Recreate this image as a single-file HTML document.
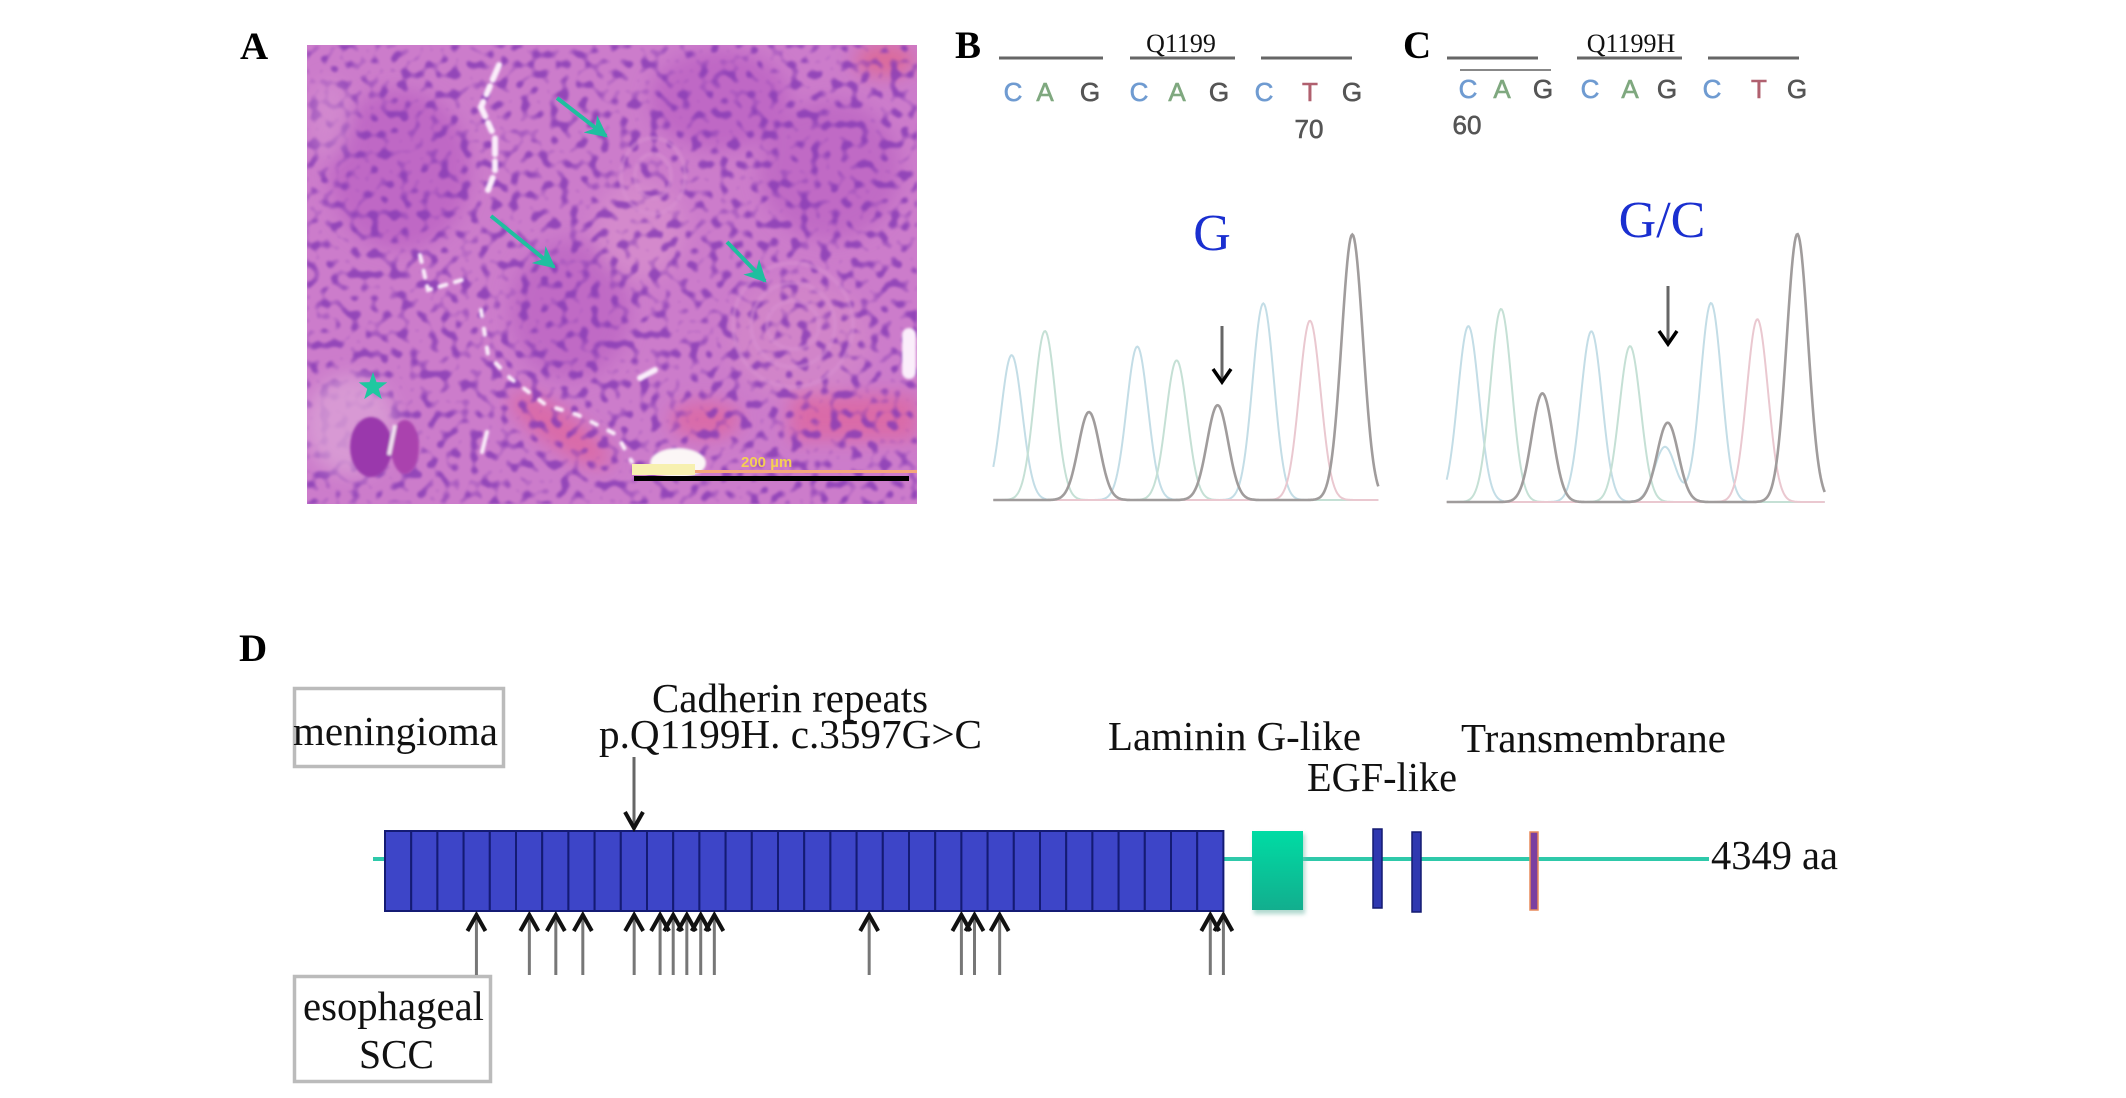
<!DOCTYPE html>
<html lang="en">
<head>
<meta charset="utf-8">
<title>CDH-family variant figure</title>
<style>
html,body{margin:0;padding:0;background:#fff;}
svg{display:block;}
text{font-family:"Liberation Serif",serif;fill:#111;}
.sans{font-family:"Liberation Sans",sans-serif;}
.panel{font-weight:bold;font-size:39px;fill:#000;}
.lbl{font-size:41px;}
.q{font-size:26px;}
.base{font-family:"Liberation Sans",sans-serif;font-size:26px;text-anchor:middle;stroke-width:.6;}
.c{fill:#6f9bd1;stroke:#6f9bd1}.a{fill:#7fa87f;stroke:#7fa87f}.g{fill:#555;stroke:#555}.t{fill:#b0606f;stroke:#b0606f}
.blue{font-size:52px;fill:#1a2fd0;text-anchor:middle;}
</style>
</head>
<body>
<svg id="figure" xmlns="http://www.w3.org/2000/svg" width="2126" height="1098" viewBox="0 0 2126 1098">
<defs>
  <clipPath id="hclip"><rect x="307" y="45" width="610" height="459"/></clipPath>
  <filter id="nuclei" x="0" y="0" width="100%" height="100%" color-interpolation-filters="sRGB">
    <feTurbulence type="fractalNoise" baseFrequency="0.1" numOctaves="1" seed="11"/>
    <feColorMatrix type="matrix" values="0 0 0 0 0.53  0 0 0 0 0.23  0 0 0 0 0.71  6 0 0 0 -3.1"/>
    <feGaussianBlur stdDeviation="1.1"/>
  </filter>
  <filter id="soft" x="-30%" y="-30%" width="160%" height="160%"><feGaussianBlur stdDeviation="9"/></filter>
  <filter id="soft2" x="-30%" y="-30%" width="160%" height="160%"><feGaussianBlur stdDeviation="1.2"/></filter>
  <filter id="shadow" x="-20%" y="-20%" width="140%" height="140%"><feGaussianBlur stdDeviation="2"/></filter>
  <marker id="tealHead" viewBox="0 0 10 10" refX="9" refY="5" markerWidth="5.5" markerHeight="5.5" orient="auto">
    <path d="M0,0 L10,5 L0,10 L3,5 Z" fill="#1fbf9f"/>
  </marker>
  <linearGradient id="lamGrad" x1="0" y1="0" x2="0" y2="1">
    <stop offset="0" stop-color="#00dca4"/><stop offset="1" stop-color="#12ae8e"/>
  </linearGradient>
</defs>
<rect width="2126" height="1098" fill="#fff"/>

<!-- Panel A -->
<text class="panel" x="240" y="59">A</text>
<g clip-path="url(#hclip)">
  <rect x="307" y="45" width="610" height="459" fill="#cc7ccb"/>
  <g filter="url(#soft)">
    <ellipse cx="400" cy="170" rx="70" ry="80" fill="#bf68c5"/>
    <ellipse cx="720" cy="100" rx="70" ry="50" fill="#bf68c5"/>
    <ellipse cx="830" cy="170" rx="70" ry="70" fill="#c06ac5"/>
    <ellipse cx="570" cy="310" rx="60" ry="70" fill="#c06ac5"/>
    <ellipse cx="640" cy="230" rx="45" ry="50" fill="#d489cc"/>
    <ellipse cx="800" cy="340" rx="70" ry="60" fill="#d184c9"/>
    <rect x="790" y="395" width="127" height="45" fill="#da6aa8"/>
    <ellipse cx="885" cy="60" rx="30" ry="16" fill="#dc6a9a"/>
    <ellipse cx="560" cy="430" rx="60" ry="18" fill="#da6aa8" transform="rotate(35 560 430)"/>
    <ellipse cx="705" cy="420" rx="35" ry="18" fill="#da6aa8"/>
  </g>
  <rect x="307" y="45" width="610" height="459" filter="url(#nuclei)" opacity=".82"/>
  <g filter="url(#soft)">
    <ellipse cx="350" cy="425" rx="45" ry="50" fill="#dba0d6" opacity=".8"/>
    <ellipse cx="330" cy="120" rx="22" ry="40" fill="#d893d2" opacity=".5"/>
  </g>
  <g fill="none" stroke="#d890d2" stroke-width="4" opacity=".55" filter="url(#soft2)">
    <ellipse cx="653" cy="176" rx="18" ry="22"/><ellipse cx="653" cy="176" rx="32" ry="38"/>
    <ellipse cx="793" cy="325" rx="26" ry="24"/><ellipse cx="793" cy="325" rx="42" ry="42"/><ellipse cx="793" cy="325" rx="60" ry="62"/>
  </g>
  <g fill="none" stroke="#fbeefb" stroke-linecap="round" filter="url(#soft2)">
    <polyline points="499,65 481,107 495,138 495,172 488,190" stroke-width="6" stroke-dasharray="16 7 9 8"/>
    <polyline points="420,255 428,290 462,280" stroke-width="4" stroke-dasharray="7 9"/>
    <polyline points="481,310 488,355 510,378 546,405 578,415 617,435 632,462" stroke-width="4" stroke-dasharray="6 13"/>
    <polyline points="640,378 655,370" stroke-width="6"/>
    <polyline points="909,335 909,372" stroke-width="14"/>
    <polyline points="487,432 482,452" stroke-width="4"/>
  </g>
  <ellipse cx="678" cy="463" rx="28" ry="15" fill="#fbf6f6" filter="url(#soft2)"/>
  <g filter="url(#soft2)">
    <ellipse cx="371" cy="447" rx="21" ry="30" fill="#9a38ac"/>
    <ellipse cx="405" cy="447" rx="14" ry="27" fill="#aa42ae"/>
    <line x1="395" y1="425" x2="389" y2="455" stroke="#f3e3f2" stroke-width="4"/>
  </g>
  <rect x="632" y="470" width="285" height="3" fill="#f4a77c"/>
  <rect x="632" y="464" width="63" height="11" fill="#f7f0b0"/>
  <rect x="634" y="476" width="275" height="5" fill="#000"/>
  <text class="sans" x="741" y="467" font-size="15" font-weight="bold" style="fill:#f4cf55">200 µm</text>
</g>
<g stroke="#1fbf9f" stroke-width="4">
  <line x1="557" y1="98" x2="606" y2="136" marker-end="url(#tealHead)"/>
  <line x1="491" y1="216" x2="554" y2="267" marker-end="url(#tealHead)"/>
  <line x1="727" y1="242" x2="765" y2="281" marker-end="url(#tealHead)"/>
</g>
<polygon points="373,372 376.5,382.1 387.3,382.4 378.7,388.9 381.8,399.1 373,393 364.2,399.1 367.3,388.9 358.7,382.4 369.5,382.1" fill="#1fc8a0"/>

<!-- Panel B -->
<text class="panel" x="955" y="58">B</text>
<g stroke="#666" stroke-width="3">
  <line x1="999" y1="58" x2="1103" y2="58"/><line x1="1130" y1="58" x2="1235" y2="58"/><line x1="1261" y1="58" x2="1352" y2="58"/>
</g>
<text class="q" x="1181" y="52" text-anchor="middle">Q1199</text>
<g>
  <text class="base c" x="1013" y="101">C</text><text class="base a" x="1045" y="101">A</text><text class="base g" x="1090" y="101">G</text>
  <text class="base c" x="1139" y="101">C</text><text class="base a" x="1177" y="101">A</text><text class="base g" x="1219" y="101">G</text>
  <text class="base c" x="1264" y="101">C</text><text class="base t" x="1310" y="101">T</text><text class="base g" x="1352" y="101">G</text>
</g>
<text class="base g" x="1309" y="138">70</text>
<text class="blue" x="1212" y="250">G</text>
<g id="traceB"></g>
<g>
  <line x1="1222" y1="326" x2="1222" y2="380" stroke="#666" stroke-width="3"/>
  <polyline points="1213,369 1222,382 1231,369" fill="none" stroke="#000" stroke-width="3.5"/>
</g>

<!-- Panel C -->
<text class="panel" x="1403" y="58">C</text>
<g stroke="#666" stroke-width="3">
  <line x1="1447" y1="58" x2="1538" y2="58"/><line x1="1577" y1="58" x2="1682" y2="58"/><line x1="1708" y1="58" x2="1799" y2="58"/>
  <line x1="1460" y1="70" x2="1551" y2="70" stroke="#888" stroke-width="2"/>
</g>
<text class="q" x="1631" y="52" text-anchor="middle">Q1199H</text>
<g>
  <text class="base c" x="1468" y="98">C</text><text class="base a" x="1502" y="98">A</text><text class="base g" x="1543" y="98">G</text>
  <text class="base c" x="1590" y="98">C</text><text class="base a" x="1630" y="98">A</text><text class="base g" x="1667" y="98">G</text>
  <text class="base c" x="1712" y="98">C</text><text class="base t" x="1759" y="98">T</text><text class="base g" x="1797" y="98">G</text>
</g>
<text class="base g" x="1467" y="134">60</text>
<text class="blue" x="1662" y="237">G/C</text>
<g id="traceC"></g>
<g>
  <line x1="1668" y1="286" x2="1668" y2="342" stroke="#666" stroke-width="3"/>
  <polyline points="1659,331 1668,344 1677,331" fill="none" stroke="#000" stroke-width="3.5"/>
</g>

<!-- Panel D -->
<text class="panel" x="239" y="661">D</text>
<rect x="294.5" y="688.5" width="209" height="78" fill="none" stroke="#bbb" stroke-width="3.5"/>
<text class="lbl" x="293" y="745" textLength="205" lengthAdjust="spacingAndGlyphs">meningioma</text>
<rect x="294.5" y="976.5" width="196" height="105" fill="none" stroke="#bbb" stroke-width="3.5"/>
<text class="lbl" x="303" y="1020" textLength="181" lengthAdjust="spacingAndGlyphs">esophageal</text>
<text class="lbl" x="359" y="1068" textLength="75" lengthAdjust="spacingAndGlyphs">SCC</text>

<text class="lbl" x="652" y="712" textLength="276" lengthAdjust="spacingAndGlyphs">Cadherin repeats</text>
<text class="lbl" x="599" y="748" textLength="383" lengthAdjust="spacingAndGlyphs">p.Q1199H. c.3597G&gt;C</text>
<text class="lbl" x="1108" y="750" textLength="253" lengthAdjust="spacingAndGlyphs">Laminin G-like</text>
<text class="lbl" x="1307" y="791" textLength="150" lengthAdjust="spacingAndGlyphs">EGF-like</text>
<text class="lbl" x="1461" y="752" textLength="265" lengthAdjust="spacingAndGlyphs">Transmembrane</text>
<text class="lbl" x="1711" y="869" textLength="127" lengthAdjust="spacingAndGlyphs">4349 aa</text>

<rect x="373" y="857" width="1336" height="4" fill="#2ec9aa"/>
<g id="repeats"></g>
<rect x="1254" y="834" width="51" height="80" fill="#7bbdad" opacity=".6" filter="url(#shadow)"/>
<rect x="1252" y="831" width="51" height="79" fill="url(#lamGrad)"/>
<rect x="1373" y="829" width="9" height="79" fill="#2f38b0" stroke="#141a70" stroke-width="1.5"/>
<rect x="1412" y="832" width="9" height="80" fill="#2f38b0" stroke="#141a70" stroke-width="1.5"/>
<rect x="1530" y="832" width="8" height="78" fill="#7b3fa0" stroke="#e88a5a" stroke-width="1.5"/>
<g>
  <line x1="634" y1="757" x2="634" y2="828" stroke="#666" stroke-width="3"/>
  <polyline points="625,812 634,828 643,812" fill="none" stroke="#111" stroke-width="4"/>
</g>
<g id="mutations"></g>
</svg>

<script>
// Chromatogram peak values (scan position, signal height) per base channel
const bCScan = [215, 592, 970];
const bCSignal = [420, 445, 570];
const bAScan = [315, 710];
const bASignal = [490, 405];
const bGScan = [447, 833, 1237];
const bGSignal = [255, 275, 770];
const bTScan = [1110];
const bTSignal = [520];

const cCScan = [235, 604, 825, 963];
const cCSignal = [510, 495, 160, 577];
const cAScan = [333, 720];
const cASignal = [560, 452];
const cGScan = [457, 833, 1222];
const cGSignal = [315, 230, 777];
const cTScan = [1102];
const cTSignal = [530];

// Cadherin schematic: number of repeats and mutation positions in repeat units
const cadherinRepeatCount = 32;
const mutationRepeats = [3.49, 5.51, 6.52, 7.55, 9.51, 10.5, 11.0, 11.52, 12.05, 12.57, 18.48, 22.0, 22.5, 23.46, 31.5, 32.0];

const NS = 'http://www.w3.org/2000/svg';

function makeAxis(x0, zero) {
  return {
    x: function (s) { return x0 + s / 3; },
    y: function (v) { return zero - v / 2.9; }
  };
}
const axisB = makeAxis(940, 500);
const axisC = makeAxis(1390, 502);
const repeatX = function (r) { return 385 + r * 26.2; };

function drawChannel(host, axis, scans, signals, color, width, startScan, endScan) {
  let d = '';
  for (let s = startScan; s <= endScan; s += 3) {
    let v = 0;
    for (let i = 0; i < scans.length; i++) {
      const z = (s - scans[i]) / 32;
      v += signals[i] * Math.exp(-0.5 * z * z);
    }
    d += (d ? 'L' : 'M') + axis.x(s).toFixed(1) + ',' + axis.y(v).toFixed(1);
  }
  const p = document.createElementNS(NS, 'path');
  p.setAttribute('d', d);
  p.setAttribute('fill', 'none');
  p.setAttribute('stroke', color);
  p.setAttribute('stroke-width', width);
  
  
  host.appendChild(p);
}

const hostB = document.getElementById('traceB');
drawChannel(hostB, axisB, bCScan, bCSignal, '#c3dde6', 2, 160, 1315);
drawChannel(hostB, axisB, bAScan, bASignal, '#c5e0d5', 2, 160, 1315);
drawChannel(hostB, axisB, bTScan, bTSignal, '#eac8d0', 2, 160, 1315);
drawChannel(hostB, axisB, bGScan, bGSignal, '#a09c9c', 2.6, 160, 1315);

const hostC = document.getElementById('traceC');
drawChannel(hostC, axisC, cCScan, cCSignal, '#c3dde6', 2, 170, 1305);
drawChannel(hostC, axisC, cAScan, cASignal, '#c5e0d5', 2, 170, 1305);
drawChannel(hostC, axisC, cTScan, cTSignal, '#eac8d0', 2, 170, 1305);
drawChannel(hostC, axisC, cGScan, cGSignal, '#a09c9c', 2.6, 170, 1305);

const repeatHost = document.getElementById('repeats');
for (let i = 0; i < cadherinRepeatCount; i++) {
  const r = document.createElementNS(NS, 'rect');
  r.setAttribute('x', repeatX(i));
  r.setAttribute('y', 831);
  r.setAttribute('width', 26.2);
  r.setAttribute('height', 80);
  r.setAttribute('fill', '#3d45c8');
  r.setAttribute('stroke', '#141b74');
  r.setAttribute('stroke-width', 2);
  
  
  repeatHost.appendChild(r);
}

const mutationHost = document.getElementById('mutations');
mutationRepeats.forEach(function (r) {
  const x = repeatX(r);
  const g = document.createElementNS(NS, 'g');
  
  
  const shaft = document.createElementNS(NS, 'line');
  shaft.setAttribute('x1', x);
  shaft.setAttribute('x2', x);
  shaft.setAttribute('y1', 915);
  shaft.setAttribute('y2', 975);
  shaft.setAttribute('stroke', '#777');
  shaft.setAttribute('stroke-width', 3);
  const head = document.createElementNS(NS, 'polyline');
  head.setAttribute('points', (x - 9) + ',931 ' + x + ',915 ' + (x + 9) + ',931');
  head.setAttribute('fill', 'none');
  head.setAttribute('stroke', '#111');
  head.setAttribute('stroke-width', 4);
  g.appendChild(shaft);
  g.appendChild(head);
  mutationHost.appendChild(g);
});
</script>
</body>
</html>
